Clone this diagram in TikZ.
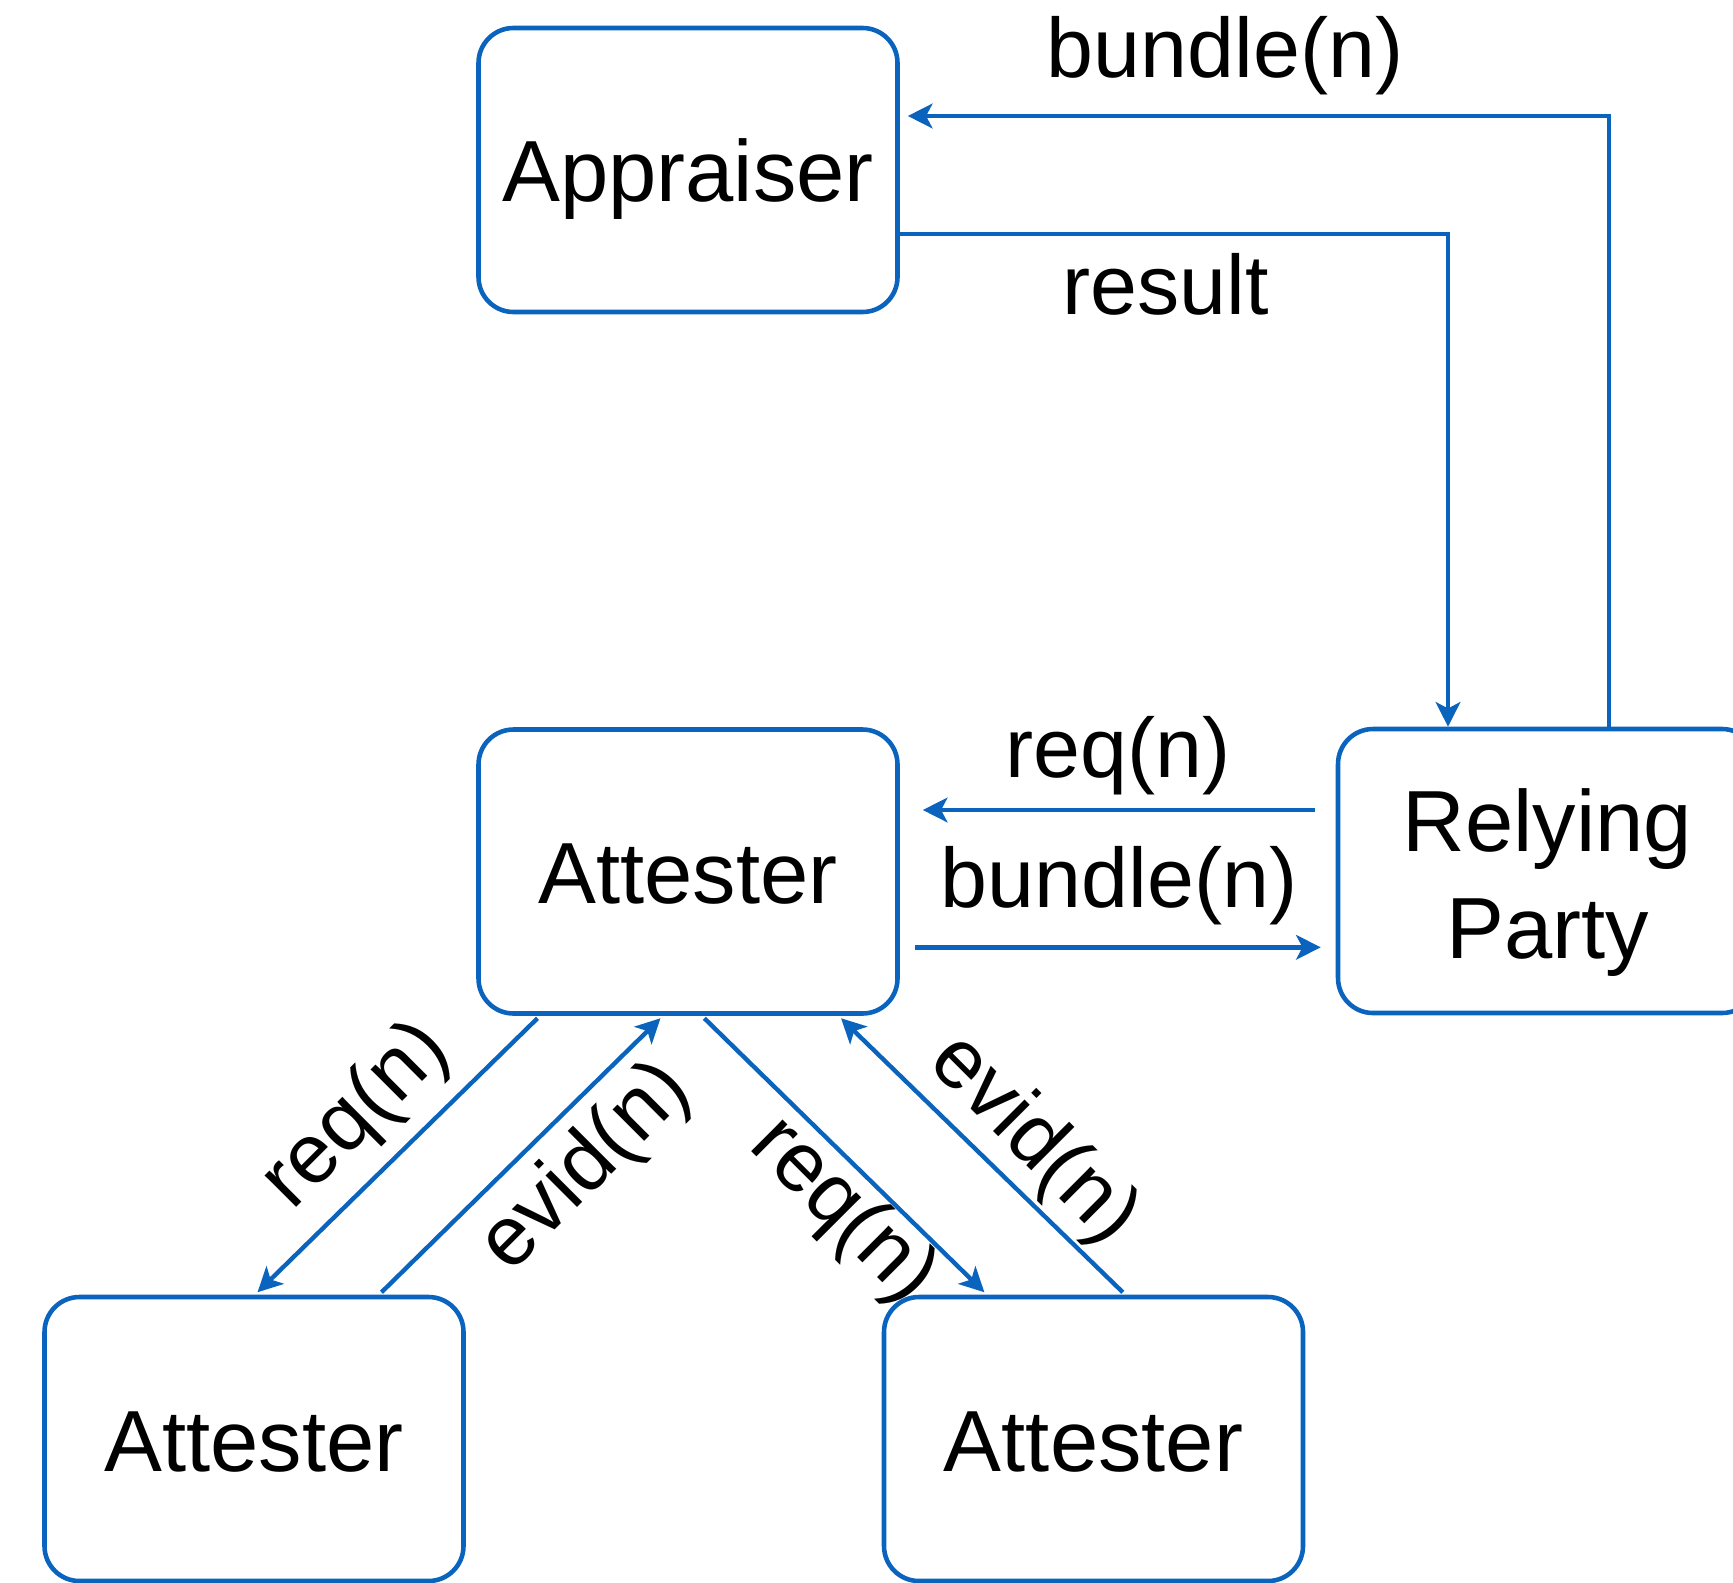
\documentclass[tikz,border=0pt]{standalone}
\usepackage{fontspec}
\setmainfont{Liberation Sans}
\usetikzlibrary{arrows.meta}
\definecolor{linkblue}{RGB}{10,100,190}

\begin{document}
\begin{tikzpicture}[
    box/.style={draw=linkblue, line width=1.3pt, rounded corners=0.35cm, fill=white,
        minimum width=4.19cm, minimum height=2.84cm, align=center,
        text height=18.2pt, text depth=0pt,
        font=\fontsize{24.7}{30.3}\selectfont},
    flow/.style={draw=linkblue, line width=1.25pt, -{Stealth[length=7pt,width=7pt,inset=1.8pt]}},
    lbl/.style={font=\fontsize{24}{29}\selectfont, inner sep=0pt}
]
    \useasboundingbox (0,0) rectangle (17.33,-15.82);
    % Boxes
    \node[box] (appr) at (6.88,-1.70) {Appraiser};
    \node[box] (att) at (6.88,-8.715) {Attester};
    \node[box, text height=49.5pt] (rp) at (15.475,-8.71) {Relying\\Party};
    \node[box] (attl) at (2.54,-14.39) {Attester};
    \node[box] (attr) at (10.935,-14.39) {Attester};
    % Appraiser <-> Relying Party
    \coordinate (topturn) at (16.09,-1.16);
    \coordinate (resturn) at (14.48,-2.343);
    \draw[flow, shorten >=0.08cm] (rp.north -| topturn) |- (appr.east |- topturn);
    \draw[flow] (appr.east |- resturn) -| (rp.north -| resturn);
    % Attester <-> Relying Party
    \coordinate (reqy) at (0,-8.10);
    \coordinate (bndy) at (0,-9.473);
    \draw[flow, shorten <=0.21cm, shorten >=0.23cm] (rp.west |- reqy) -- (att.east |- reqy);
    \draw[flow, shorten <=0.15cm, shorten >=0.15cm] (att.east |- bndy) -- (rp.west |- bndy);
    % Attester <-> lower Attesters
    \draw[flow, shorten <=1pt, shorten >=1pt] ([xshift=-1.48cm]att.south) -- ([xshift=0.01cm]attl.north);
    \draw[flow, shorten <=1pt, shorten >=1pt] ([xshift=1.25cm]attl.north) -- ([xshift=-0.25cm]att.south);
    \draw[flow, shorten <=1pt, shorten >=1pt] ([xshift=0.138cm]att.south) -- ([xshift=-1.066cm]attr.north);
    \draw[flow, shorten <=1pt, shorten >=1pt] ([xshift=0.318cm]attr.north) -- ([xshift=1.505cm]att.south);
    % Labels
    \node[lbl] (lbtop) at (12.25,-0.56) {bundle(n)};
    \node[lbl] (lres) at (11.655,-2.847) {result};
    \node[lbl] (lreq) at (11.18,-7.56) {req(n)};
    \node[lbl] (lbnd) at (11.19,-8.86) {bundle(n)};
    \node[lbl, rotate=45] (lreql) at (3.57,-11.17) {req(n)};
    \node[lbl, rotate=45] (levl) at (5.865,-11.68) {evid(n)};
    \node[lbl, rotate=-45] (lreqr) at (8.425,-12.115) {req(n)};
    \node[lbl, rotate=-45] (levr) at (10.33,-11.405) {evid(n)};
\end{tikzpicture}
\end{document}
